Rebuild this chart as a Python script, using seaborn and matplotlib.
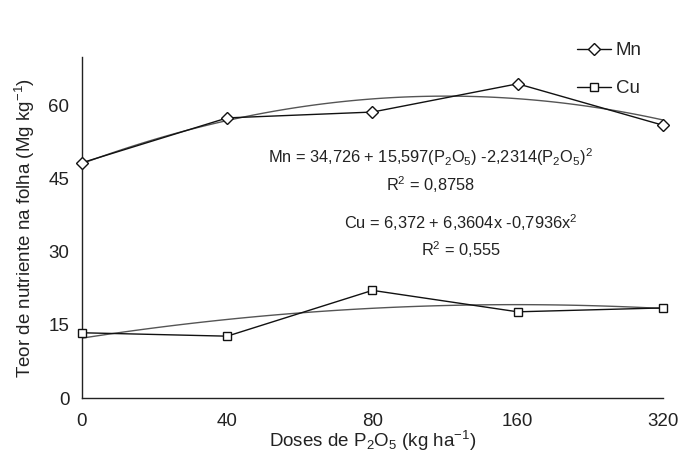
import numpy as np
import pandas as pd
import matplotlib
matplotlib.use("Agg")
import matplotlib.pyplot as plt
import seaborn as sns

# data
doses = ["0", "40", "80", "160", "320"]          # kg ha-1 P2O5, equally spaced categories
mn = [48.3, 57.5, 58.7, 64.5, 56.0]
cu = [13.4, 12.7, 22.1, 17.7, 18.5]

mn_eq = "Mn = 34,726 + 15,597(P$_\\mathregular{2}$O$_\\mathregular{5}$) -2,2314(P$_\\mathregular{2}$O$_\\mathregular{5}$)$^\\mathregular{2}$"
mn_r2 = "R$^\\mathregular{2}$ = 0,8758"
cu_eq = "Cu = 6,372 + 6,3604x -0,7936x$^\\mathregular{2}$"
cu_r2 = "R$^\\mathregular{2}$ = 0,555"

sns.set_style("white")
plt.rcParams["font.family"] = ["Liberation Sans", "DejaVu Sans"]
plt.rcParams["mathtext.fontset"] = "custom"
plt.rcParams["mathtext.rm"] = "Liberation Sans"
plt.rcParams["mathtext.it"] = "Liberation Sans:italic"
plt.rcParams["mathtext.bf"] = "Liberation Sans:bold"

INK = "#222222"

pos = np.arange(len(doses))
df = pd.DataFrame({"pos": pos, "Mn": mn, "Cu": cu})

fig = plt.figure(figsize=(6.85, 4.75), dpi=100)
ax = fig.add_axes([0.1197, 0.162, 0.848, 0.718])

# quadratic trend lines (fitted by seaborn)
trend_kw = dict(order=2, ci=None, scatter=False, truncate=True,
                line_kws={"color": "#555555", "lw": 1.0})
sns.regplot(data=df, x="pos", y="Mn", ax=ax, **trend_kw)
sns.regplot(data=df, x="pos", y="Cu", ax=ax, **trend_kw)

# observed values
sns.lineplot(data=df, x="pos", y="Mn", ax=ax, color="#111111", lw=1.0,
             marker="D", markersize=6, markerfacecolor="white",
             markeredgecolor="#111111", markeredgewidth=1.0, label="Mn",
             clip_on=False, zorder=5)
sns.lineplot(data=df, x="pos", y="Cu", ax=ax, color="#111111", lw=1.0,
             marker="s", markersize=6, markerfacecolor="white",
             markeredgecolor="#111111", markeredgewidth=1.0, label="Cu",
             clip_on=False, zorder=5)

ax.set_xlim(pos[0], pos[-1])
ax.set_ylim(0, 70)
ax.set_xticks(pos)
ax.set_xticklabels(doses)
ax.set_yticks([0, 15, 30, 45, 60])
for s in ["top", "right"]:
    ax.spines[s].set_visible(False)
for s in ["left", "bottom"]:
    ax.spines[s].set_color(INK)
    ax.spines[s].set_linewidth(1.0)
ax.tick_params(axis="both", which="major", direction="out", length=5,
               width=1.0, color=INK, labelsize=13.5, labelcolor=INK)
ax.tick_params(axis="x", pad=6)
ax.tick_params(axis="y", pad=4)

ax.set_xlabel("Doses de P$_\\mathregular{2}$O$_\\mathregular{5}$ (kg ha$^\\mathregular{-1}$)",
              fontsize=13.5, color=INK, labelpad=-1)
ax.set_ylabel("Teor de nutriente na folha (Mg kg$^\\mathregular{-1}$)",
              fontsize=13.5, color=INK, labelpad=8)

ax.text(0.599, 0.705, mn_eq, transform=ax.transAxes, ha="center", va="center",
        fontsize=11.8, color=INK)
ax.text(0.599, 0.625, mn_r2, transform=ax.transAxes, ha="center", va="center",
        fontsize=11.8, color=INK)
ax.text(0.652, 0.515, cu_eq, transform=ax.transAxes, ha="center", va="center",
        fontsize=11.8, color=INK)
ax.text(0.652, 0.435, cu_r2, transform=ax.transAxes, ha="center", va="center",
        fontsize=11.8, color=INK)

ax.legend(loc="upper left", bbox_to_anchor=(0.84, 1.065), frameon=False,
          fontsize=13.5, handlelength=1.8, handletextpad=0.25, labelspacing=1.1,
          borderaxespad=0)

fig.savefig("out.png", dpi=100)
